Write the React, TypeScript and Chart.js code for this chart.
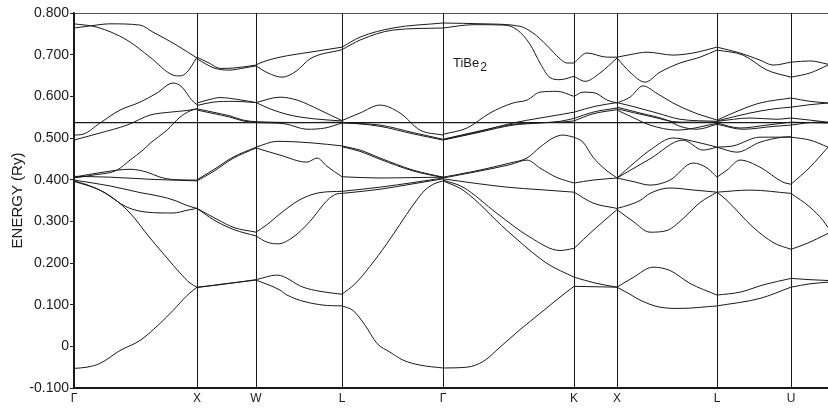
import { useEffect, useRef } from 'react';
import { Chart, registerables } from 'chart.js';
Chart.register(...registerables);

// k-path positions of the symmetry points (path units) and labels
const symK = [0, 123, 182, 268, 369, 500, 543, 643, 717];
const symLabels = ['Γ', 'X', 'W', 'L', 'Γ', 'K', 'X', 'L', 'U'];
const kMax = 754;
const yTicks = [-0.1, 0, 0.1, 0.2, 0.3, 0.4, 0.5, 0.6, 0.7, 0.8];
const yTickLabels = ['-0.100', '0', '0.100', '0.200', '0.300', '0.400', '0.500', '0.600', '0.700', '0.800'];
const fermiE = 0.537;
const labelK = 379;
const labelE = 0.670;

// bands per segment: each curve is a list of [k, E(Ry)]
const segGX = [
  [[0, 0.774], [23, 0.766], [53, 0.735], [76, 0.694], [99, 0.651], [106, 0.649], [113, 0.658], [123, 0.694]],
  [[0, 0.764], [16, 0.769], [36, 0.774], [66, 0.771], [79, 0.754], [99, 0.728], [123, 0.692]],
  [[0, 0.507], [9, 0.509], [26, 0.536], [46, 0.567], [66, 0.586], [83, 0.608], [99, 0.632], [108, 0.622], [118, 0.590], [123, 0.580]],
  [[0, 0.495], [26, 0.512], [53, 0.531], [76, 0.555], [96, 0.562], [113, 0.566], [123, 0.570]],
  [[0, 0.404], [19, 0.411], [43, 0.423], [56, 0.447], [69, 0.471], [76, 0.487], [93, 0.519], [106, 0.550], [116, 0.565], [123, 0.570]],
  [[0, 0.406], [29, 0.418], [56, 0.425], [73, 0.418], [86, 0.406], [101, 0.400], [123, 0.399]],
  [[0, 0.408], [36, 0.406], [76, 0.401], [123, 0.397]],
  [[0, 0.399], [36, 0.385], [66, 0.369], [86, 0.360], [101, 0.350], [113, 0.338], [123, 0.331]],
  [[0, 0.396], [26, 0.375], [53, 0.334], [73, 0.322], [99, 0.320], [114, 0.327], [123, 0.331]],
  [[0, 0.397], [16, 0.385], [36, 0.361], [56, 0.320], [76, 0.260], [93, 0.212], [106, 0.176], [116, 0.152], [123, 0.142]],
  [[0, -0.053], [13, -0.050], [26, -0.041], [46, -0.010], [66, 0.014], [86, 0.055], [99, 0.086], [113, 0.122], [123, 0.142]],
];

const segXW = [
  [[123, 0.694], [135, 0.680], [146, 0.667], [160, 0.668], [182, 0.675]],
  [[123, 0.690], [140, 0.668], [155, 0.663], [170, 0.668], [182, 0.673]],
  [[123, 0.584], [135, 0.592], [146, 0.597], [165, 0.592], [182, 0.585]],
  [[123, 0.578], [139, 0.586], [160, 0.588], [182, 0.585]],
  [[123, 0.570], [139, 0.562], [156, 0.553], [169, 0.543], [182, 0.539]],
  [[123, 0.567], [139, 0.559], [156, 0.550], [169, 0.541], [182, 0.537]],
  [[123, 0.400], [139, 0.423], [159, 0.454], [182, 0.478]],
  [[123, 0.397], [139, 0.419], [159, 0.451], [182, 0.476]],
  [[123, 0.331], [143, 0.305], [160, 0.285], [182, 0.274]],
  [[123, 0.331], [140, 0.303], [160, 0.280], [182, 0.265]],
  [[123, 0.142], [143, 0.147], [182, 0.160]],
  [[123, 0.141], [150, 0.150], [182, 0.159]],
];

const segWL = [
  [[182, 0.675], [186, 0.680], [206, 0.694], [236, 0.706], [268, 0.718]],
  [[182, 0.673], [194, 0.656], [208, 0.646], [222, 0.660], [236, 0.690], [268, 0.712]],
  [[182, 0.585], [206, 0.598], [223, 0.591], [246, 0.567], [266, 0.544], [268, 0.542]],
  [[182, 0.585], [196, 0.570], [216, 0.555], [240, 0.546], [268, 0.541]],
  [[182, 0.539], [220, 0.537], [268, 0.538]],
  [[182, 0.537], [211, 0.534], [233, 0.521], [251, 0.524], [268, 0.536]],
  [[182, 0.478], [203, 0.492], [239, 0.488], [268, 0.481]],
  [[182, 0.476], [206, 0.459], [233, 0.442], [243, 0.452], [253, 0.432], [268, 0.407]],
  [[182, 0.274], [193, 0.292], [206, 0.318], [226, 0.352], [246, 0.369], [268, 0.372]],
  [[182, 0.265], [193, 0.250], [204, 0.246], [219, 0.262], [236, 0.300], [253, 0.350], [263, 0.366], [268, 0.367]],
  [[182, 0.160], [203, 0.171], [229, 0.142], [246, 0.132], [268, 0.125]],
  [[182, 0.159], [206, 0.135], [213, 0.123], [249, 0.099], [268, 0.097]],
];

const segLG = [
  [[268, 0.718], [286, 0.742], [319, 0.764], [369, 0.776]],
  [[268, 0.712], [286, 0.735], [319, 0.759], [369, 0.764]],
  [[268, 0.542], [286, 0.560], [306, 0.579], [326, 0.560], [346, 0.519], [369, 0.507]],
  [[268, 0.538], [306, 0.528], [339, 0.510], [369, 0.495]],
  [[268, 0.536], [306, 0.531], [339, 0.513], [369, 0.497]],
  [[268, 0.481], [286, 0.471], [306, 0.452], [339, 0.423], [369, 0.406]],
  [[268, 0.479], [286, 0.468], [306, 0.449], [339, 0.421], [369, 0.405]],
  [[268, 0.407], [306, 0.404], [339, 0.405], [369, 0.406]],
  [[268, 0.372], [306, 0.382], [339, 0.393], [369, 0.404]],
  [[268, 0.367], [306, 0.377], [339, 0.390], [369, 0.402]],
  [[268, 0.125], [281, 0.150], [296, 0.192], [313, 0.247], [326, 0.293], [339, 0.339], [351, 0.375], [361, 0.391], [369, 0.397]],
  [[268, 0.097], [279, 0.086], [291, 0.051], [303, 0.007], [316, -0.014], [329, -0.033], [346, -0.045], [369, -0.052]],
];

const segGK = [
  [[369, 0.776], [410, 0.774], [446, 0.768], [459, 0.752], [473, 0.722], [486, 0.690], [493, 0.680], [500, 0.680]],
  [[369, 0.764], [400, 0.772], [430, 0.771], [443, 0.760], [456, 0.725], [466, 0.680], [476, 0.645], [486, 0.640], [500, 0.648]],
  [[369, 0.509], [393, 0.524], [416, 0.560], [439, 0.584], [453, 0.591], [466, 0.610], [483, 0.612], [500, 0.600]],
  [[369, 0.495], [406, 0.514], [439, 0.531], [466, 0.536], [486, 0.540], [500, 0.547]],
  [[369, 0.497], [406, 0.517], [439, 0.533], [466, 0.537], [486, 0.538], [500, 0.541]],
  [[369, 0.496], [406, 0.516], [439, 0.536], [466, 0.548], [486, 0.556], [500, 0.562]],
  [[369, 0.406], [400, 0.420], [436, 0.440], [453, 0.452], [466, 0.478], [479, 0.500], [489, 0.507], [500, 0.502]],
  [[369, 0.404], [400, 0.418], [436, 0.436], [453, 0.447], [466, 0.428], [483, 0.405], [500, 0.392]],
  [[369, 0.402], [399, 0.392], [433, 0.382], [466, 0.376], [500, 0.370]],
  [[369, 0.399], [389, 0.382], [423, 0.319], [456, 0.262], [486, 0.230], [500, 0.235]],
  [[369, 0.397], [389, 0.375], [433, 0.278], [473, 0.199], [500, 0.166]],
  [[369, -0.052], [393, -0.050], [410, -0.035], [426, -0.002], [446, 0.040], [466, 0.079], [486, 0.118], [500, 0.144]],
];

const segKX = [
  [[500, 0.680], [513, 0.704], [533, 0.694], [543, 0.694]],
  [[500, 0.648], [511, 0.636], [526, 0.656], [543, 0.692]],
  [[500, 0.600], [509, 0.610], [521, 0.608], [533, 0.591], [543, 0.584]],
  [[500, 0.562], [521, 0.576], [543, 0.585]],
  [[500, 0.547], [519, 0.562], [543, 0.572]],
  [[500, 0.541], [519, 0.558], [543, 0.568]],
  [[500, 0.502], [509, 0.490], [519, 0.454], [531, 0.425], [543, 0.404]],
  [[500, 0.392], [519, 0.399], [543, 0.404]],
  [[500, 0.370], [519, 0.344], [543, 0.331]],
  [[500, 0.235], [519, 0.278], [543, 0.328]],
  [[500, 0.166], [521, 0.152], [543, 0.142]],
  [[500, 0.144], [521, 0.143], [543, 0.142]],
];

const segXL = [
  [[543, 0.694], [556, 0.700], [573, 0.706], [599, 0.699], [619, 0.704], [643, 0.718]],
  [[543, 0.692], [556, 0.658], [571, 0.634], [586, 0.658], [606, 0.680], [626, 0.694], [643, 0.711]],
  [[543, 0.584], [556, 0.598], [569, 0.625], [583, 0.607], [599, 0.584], [619, 0.562], [643, 0.543]],
  [[543, 0.585], [560, 0.575], [583, 0.560], [606, 0.545], [643, 0.540]],
  [[543, 0.574], [566, 0.560], [593, 0.543], [606, 0.528], [623, 0.521], [643, 0.533]],
  [[543, 0.570], [576, 0.552], [606, 0.538], [643, 0.538]],
  [[543, 0.567], [560, 0.548], [576, 0.531], [603, 0.519], [643, 0.535]],
  [[543, 0.404], [560, 0.440], [576, 0.471], [599, 0.500], [623, 0.490], [643, 0.478]],
  [[543, 0.404], [576, 0.450], [609, 0.495], [629, 0.471], [643, 0.478]],
  [[543, 0.404], [560, 0.395], [576, 0.387], [596, 0.399], [619, 0.440], [633, 0.428], [643, 0.406]],
  [[543, 0.331], [556, 0.340], [566, 0.350], [576, 0.367], [596, 0.380], [620, 0.375], [643, 0.370]],
  [[543, 0.328], [559, 0.300], [576, 0.274], [593, 0.278], [606, 0.300], [626, 0.345], [643, 0.370]],
  [[543, 0.142], [559, 0.165], [579, 0.190], [596, 0.182], [616, 0.151], [643, 0.123]],
  [[543, 0.142], [556, 0.125], [566, 0.111], [586, 0.094], [606, 0.091], [643, 0.097]],
];

const segLU = [
  [[643, 0.718], [666, 0.704], [686, 0.687], [699, 0.675], [717, 0.682]],
  [[643, 0.711], [669, 0.699], [693, 0.663], [717, 0.646]],
  [[643, 0.543], [666, 0.567], [686, 0.584], [717, 0.596]],
  [[643, 0.541], [676, 0.560], [700, 0.570], [717, 0.574]],
  [[643, 0.540], [676, 0.548], [703, 0.545], [717, 0.548]],
  [[643, 0.536], [666, 0.524], [693, 0.531], [717, 0.538]],
  [[643, 0.533], [669, 0.521], [700, 0.528], [717, 0.531]],
  [[643, 0.478], [659, 0.481], [686, 0.502], [717, 0.502]],
  [[643, 0.478], [663, 0.466], [686, 0.490], [709, 0.502], [717, 0.503]],
  [[643, 0.406], [653, 0.423], [666, 0.447], [686, 0.430], [709, 0.394], [717, 0.389]],
  [[643, 0.370], [676, 0.375], [717, 0.367]],
  [[643, 0.370], [653, 0.350], [679, 0.286], [700, 0.248], [717, 0.233]],
  [[643, 0.123], [666, 0.130], [690, 0.148], [717, 0.163]],
  [[643, 0.097], [686, 0.115], [717, 0.142]],
];

const segUX = [
  [[717, 0.682], [736, 0.685], [754, 0.677]],
  [[717, 0.646], [736, 0.656], [754, 0.675]],
  [[717, 0.596], [736, 0.588], [754, 0.584]],
  [[717, 0.574], [736, 0.580], [754, 0.584]],
  [[717, 0.548], [754, 0.538]],
  [[717, 0.538], [754, 0.536]],
  [[717, 0.531], [743, 0.538], [754, 0.537]],
  [[717, 0.502], [736, 0.495], [754, 0.478]],
  [[717, 0.389], [736, 0.430], [754, 0.478]],
  [[717, 0.367], [736, 0.334], [749, 0.302], [754, 0.285]],
  [[717, 0.233], [733, 0.247], [754, 0.271]],
  [[717, 0.163], [736, 0.160], [754, 0.158]],
  [[717, 0.142], [736, 0.150], [754, 0.154]],
];

const allSegments = [segGX, segXW, segWL, segLG, segGK, segKX, segXL, segLU, segUX];

const INK = '#1a1a1a';
const FONT = '"Liberation Sans", Arial, sans-serif';

export default function App() {
  const ref = useRef<HTMLCanvasElement>(null);
  useEffect(() => {
    document.body.style.margin = '0';
    const canvas = ref.current;
    if (!canvas) return;
    const datasets: any[] = [];
    allSegments.forEach((seg) =>
      seg.forEach((curve) =>
        datasets.push({
          data: curve.map(([x, y]) => ({ x, y })),
          borderColor: INK,
          borderWidth: 1,
          pointRadius: 0,
          cubicInterpolationMode: 'monotone',
          fill: false,
        })
      )
    );
    datasets.push({
      data: [{ x: 0, y: fermiE }, { x: kMax, y: fermiE }],
      borderColor: INK, borderWidth: 1.2, pointRadius: 0, fill: false,
    });
    datasets.push({
      data: [{ x: 0, y: 0.8 }, { x: kMax, y: 0.8 }],
      borderColor: INK, borderWidth: 1.5, pointRadius: 0, fill: false,
    });

    const labelPlugin = {
      id: 'tibeLabel',
      afterDraw(chart: any) {
        const { ctx, scales } = chart;
        const px = scales.x.getPixelForValue(labelK);
        const py = scales.y.getPixelForValue(labelE);
        ctx.save();
        ctx.fillStyle = INK;
        ctx.textBaseline = 'alphabetic';
        ctx.font = `13px ${FONT}`;
        ctx.fillText('TiBe', px, py);
        const w = ctx.measureText('TiBe').width;
        ctx.font = `12px ${FONT}`;
        ctx.fillText('2', px + w + 1, py + 4);
        ctx.restore();
      },
    };

    const chart = new Chart(canvas, {
      type: 'line',
      data: { datasets },
      options: {
        animation: false,
        responsive: false,
        devicePixelRatio: 1,
        layout: { padding: { top: 13, right: 0, left: 0, bottom: 0 } },
        plugins: { legend: { display: false }, tooltip: { enabled: false } },
        scales: {
          x: {
            type: 'linear',
            min: 0,
            max: kMax,
            afterBuildTicks: (s: any) => { s.ticks = symK.map((v) => ({ value: v })); },
            afterFit: (s: any) => { s.height = 20; },
            ticks: {
              autoSkip: false,
              maxRotation: 0,
              padding: 3,
              color: INK,
              font: { family: FONT, size: 12 },
              callback: (v: any) => symLabels[symK.indexOf(Number(v))] ?? '',
            },
            grid: { color: INK, lineWidth: 1, drawTicks: false },
            border: { color: INK, width: 2 },
          },
          y: {
            type: 'linear',
            min: -0.1,
            max: 0.8,
            afterBuildTicks: (s: any) => { s.ticks = yTicks.map((v) => ({ value: v })); },
            afterFit: (s: any) => { s.width = 74; },
            ticks: {
              padding: 1,
              color: INK,
              font: { family: FONT, size: 14 },
              callback: (v: any) => {
                const i = yTicks.findIndex((t) => Math.abs(t - Number(v)) < 1e-6);
                return i >= 0 ? yTickLabels[i] : '';
              },
            },
            grid: { drawOnChartArea: false, drawTicks: true, tickLength: 4, color: INK },
            border: { color: INK, width: 1.5 },
            title: {
              display: true,
              text: 'ENERGY (Ry)',
              color: INK,
              font: { family: FONT, size: 15 },
              padding: { top: 9, bottom: 0 },
            },
          },
        },
      },
      plugins: [labelPlugin],
    });
    return () => chart.destroy();
  }, []);
  return (
    <div style={{ position: 'absolute', left: 0, top: 0, width: 828, height: 408 }}>
      <canvas ref={ref} width={828} height={408} style={{ width: 828, height: 408, display: 'block' }} />
    </div>
  );
}
